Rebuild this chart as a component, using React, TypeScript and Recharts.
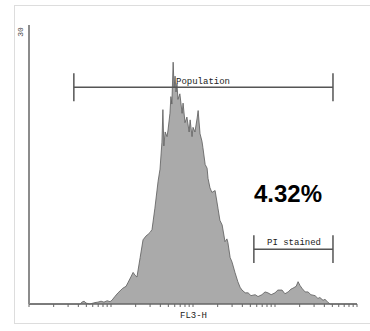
import React from 'react';
import { AreaChart, Area, XAxis, YAxis, ReferenceLine } from 'recharts';

// FL3-H channel (0-1024, 4 log decades) and event counts
const channels = [
  0, 160, 165, 172, 178, 190, 206, 215, 225, 234, 244, 253, 259, 268, 278, 287, 293, 303, 309, 318,
  325, 331, 337, 347, 356, 365, 372, 378, 384, 393, 403, 409, 415, 418, 421, 425, 431, 434, 440, 443,
  446, 450, 453, 456, 459, 462, 465, 471, 478, 481, 487, 493, 500, 503, 509, 512, 518, 525, 528, 534,
  540, 543, 550, 556, 559, 565, 571, 581, 590, 596, 603, 612, 618, 621, 628, 634, 643, 652, 659, 665,
  675, 684, 693, 706, 715, 727, 737, 746, 756, 768, 777, 790, 799, 809, 818, 824, 834, 840, 846, 852,
  862, 871, 880, 893, 902, 908, 918, 924, 933, 940, 1024,
];
const counts = [
  0, 0, 0.2, 0.3, 0.1, 0, 0.15, 0.2, 0.3, 0.2, 0.35, 0.25, 0.4, 0.8, 1.2, 1.5, 1.7, 1.9, 2.3, 2.9,
  3.4, 3.1, 2.9, 5.0, 6.9, 7.3, 7.5, 7.7, 8.0, 10.3, 13.2, 14.5, 17.4, 20.9, 17.0, 18.5, 18.0, 18.7, 20.5, 22.3,
  21.5, 26.0, 23.3, 24.5, 22.8, 23.7, 22.0, 22.6, 20.5, 21.6, 19.5, 20.1, 18.5, 19.8, 18.0, 19.0, 18.5, 20.0, 20.8, 18.3,
  17.5, 16.8, 15.0, 14.6, 13.5, 12.5, 12.0, 12.2, 10.3, 9.0, 8.5, 6.7, 7.0, 6.6, 5.0, 4.5, 3.4, 2.4, 1.8, 1.5,
  1.2, 1.2, 0.9, 1.0, 0.8, 1.0, 1.3, 1.2, 1.0, 1.2, 1.5, 1.5, 1.1, 1.3, 1.6, 1.7, 1.9, 2.4, 2.0, 1.7,
  1.3, 1.3, 1.0, 0.9, 0.6, 0.7, 0.4, 0.5, 0.2, 0, 0,
];

// log-decade tick marks (no labels on the FL3-H axis)
const decadeMultipliers = [1, 2, 3, 4, 5, 6, 7, 8, 9];
const decades = [0, 1, 2, 3];
const xTicks = [
  ...decades.flatMap((d) => decadeMultipliers.map((m) => Math.round(256 * (d + Math.log10(m))))),
  1024,
];

// gates: [start channel, end channel, level]
const populationGate = { from: 140, to: 949, level: 23.3, label: 'Population' };
const piGate = { from: 702, to: 949, level: 5.9, label: 'PI stained' };
const piPercent = '4.32%';

const data = channels.map((ch, i) => ({ ch, count: counts[i] }));

const gateColor = '#555';
const mono = '"Courier New", "Liberation Mono", monospace';

const TickMark = (props: any) => (
  <line x1={props.x} x2={props.x} y1={props.y} y2={props.y + 3} stroke="#666" strokeWidth={1} />
);

export default function App() {
  const gates = [populationGate, piGate];
  return (
    <div style={{ position: 'absolute', left: 0, top: 0, width: 370, height: 331, background: '#fff' }}>
      <div style={{ position: 'absolute', left: 14, top: 5, width: 360, height: 317, border: '1px solid #ddd' }} />
      <AreaChart
        width={370}
        height={331}
        data={data}
        margin={{ top: 25, right: 13, bottom: 17, left: 26 }}
        style={{ position: 'absolute', left: 0, top: 0 }}
      >
        <XAxis
          dataKey="ch"
          type="number"
          domain={[0, 1024]}
          ticks={xTicks}
          interval={0}
          tick={<TickMark />}
          tickSize={0}
          tickMargin={0}
          tickLine={false}
          height={10}
          axisLine={{ stroke: '#666', strokeWidth: 1.5 }}
        />
        <YAxis
          type="number"
          domain={[0, 30]}
          width={3}
          tick={false}
          tickLine={false}
          axisLine={{ stroke: '#8c8c8c', strokeWidth: 2 }}
        />
        <Area
          type="linear"
          dataKey="count"
          stroke="#5a5a5a"
          strokeWidth={0.8}
          fill="#aaaaaa"
          fillOpacity={1}
          isAnimationActive={false}
          dot={false}
          activeDot={false}
        />
        {gates.map((g) => (
          <ReferenceLine
            key={g.label + 'h'}
            segment={[{ x: g.from, y: g.level }, { x: g.to, y: g.level }]}
            stroke={gateColor}
            strokeWidth={1.5}
          />
        ))}
        {gates.map((g) => (
          <ReferenceLine
            key={g.label + 'l'}
            segment={[{ x: g.from, y: g.level - 1.5 }, { x: g.from, y: g.level + 1.5 }]}
            stroke={gateColor}
            strokeWidth={1.5}
          />
        ))}
        {gates.map((g) => (
          <ReferenceLine
            key={g.label + 'r'}
            segment={[{ x: g.to, y: g.level - 1.5 }, { x: g.to, y: g.level + 1.5 }]}
            stroke={gateColor}
            strokeWidth={1.5}
          />
        ))}
      </AreaChart>
      <svg width={370} height={331} style={{ position: 'absolute', left: 0, top: 0, pointerEvents: 'none' }}>
        <text x={176} y={84} fontFamily={mono} fontSize={9} fill="#222">{populationGate.label}</text>
        <text x={267} y={245} fontFamily={mono} fontSize={9} fill="#222">{piGate.label}</text>
        <text x={254} y={202} fontFamily="Arial, 'Liberation Sans', sans-serif" fontWeight="bold" fontSize={24} fill="#000">
          {piPercent}
        </text>
        <text x={180} y={318} fontFamily={mono} fontSize={9} fill="#222">FL3-H</text>
        <text x={23} y={32} fontFamily={mono} fontSize={8} fill="#444" textAnchor="middle" transform="rotate(-90 23 32)">
          30
        </text>
      </svg>
    </div>
  );
}
